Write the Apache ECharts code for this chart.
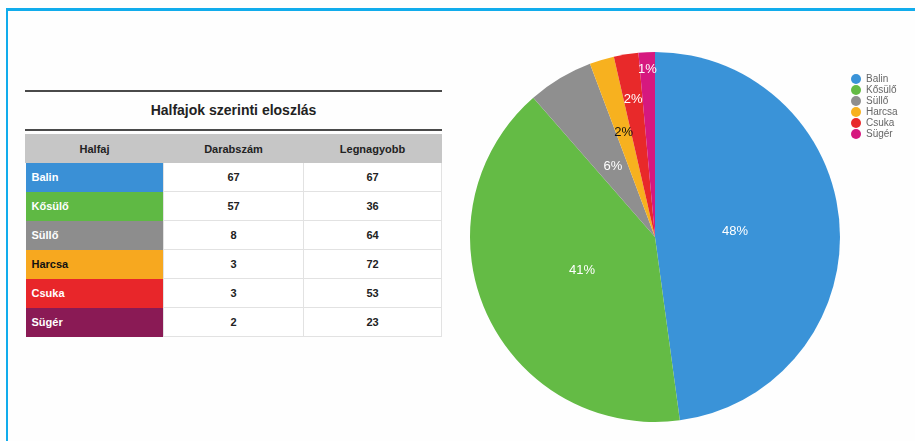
<!DOCTYPE html>
<html>
<head>
<meta charset="utf-8">
<script src="https://cdn.jsdelivr.net/npm/echarts@6/dist/echarts.min.js"></script>
<style>
    html, body { margin: 0; padding: 0; background: #fefefe; }
    #wrap { position: relative; width: 915px; height: 441px; overflow: hidden; font-family: "Liberation Sans", Arial, sans-serif; }
    #frame { position: absolute; left: 6px; top: 8px; width: 1000px; height: 1000px; border-left: 2px solid #11acec; border-top: 3px solid #11acec; }
    #chart { position: absolute; left: 0; top: 0; width: 915px; height: 441px; }
    #tbl { position: absolute; left: 25px; top: 90px; width: 417px; }
    #tbl .line { height: 2px; background: #4a4a4a; }
    #tbl .title { height: 37px; line-height: 37px; text-align: center; font-weight: bold; font-size: 14px; color: #222; }
    #tbl table { border-collapse: collapse; table-layout: fixed; width: 416px; margin-top: 3px; }
    #tbl td, #tbl th { height: 28px; padding: 0; font-size: 11px; font-weight: bold; border: 1px solid #e2e2e2; }
    #tbl th { background: #c6c6c6; color: #222; height: 27px; border-color: #c6c6c6; }
    #tbl td { text-align: center; color: #222; background: #fff; }
    #tbl td.name { text-align: left; padding-left: 6px; color: #fff; border: none; }
</style>
</head>
<body>
<div id="wrap">
    <div id="frame"></div>
    <div id="tbl">
        <div class="line"></div>
        <div class="title">Halfajok szerinti eloszlás</div>
        <div class="line"></div>
        <table id="t"></table>
    </div>
    <div id="chart"></div>
</div>
<script>
    // adatok
    var fajok = ['Balin', 'Kősülő', 'Süllő', 'Harcsa', 'Csuka', 'Sügér'];
    var darabszam = [67, 57, 8, 3, 3, 2];
    var legnagyobb = [67, 36, 64, 72, 53, 23];
    var fejlec = ['Halfaj', 'Darabszám', 'Legnagyobb'];

    var pieColors = ['#3a93d8', '#64bb45', '#8f8f8f', '#f7b11f', '#e8292a', '#d6187f'];
    var cellColors = ['#3a90d6', '#5fb944', '#8d8d8d', '#f7a81f', '#e8262a', '#8a1a55'];
    var nameText = ['#fff', '#fff', '#fff', '#111', '#fff', '#fff'];
    var labelColors = ['#fff', '#fff', '#fff', '#111', '#fff', '#fff'];
    var labelDist = [0.42, 0.42, 0.43, 0.57, 0.73, 0.88];

    // táblázat
    var html = '<colgroup><col style="width:138px"><col style="width:140px"><col style="width:138px"></colgroup><tr>';
    fejlec.forEach(function (h) { html += '<th>' + h + '</th>'; });
    html += '</tr>';
    fajok.forEach(function (f, i) {
        html += '<tr><td class="name" style="background:' + cellColors[i] + ';color:' + nameText[i] + '">' + f + '</td>'
            + '<td>' + darabszam[i] + '</td><td>' + legnagyobb[i] + '</td></tr>';
    });
    document.getElementById('t').innerHTML = html;

    // kördiagram
    var center = [655, 237];
    var radius = 185;
    var chart = echarts.init(document.getElementById('chart'));
    chart.setOption({
        animation: false,
        color: pieColors,
        legend: {
            orient: 'vertical',
            left: 846,
            top: 69,
            icon: 'circle',
            itemWidth: 10,
            itemHeight: 10,
            itemGap: 1,
            textStyle: { fontSize: 10, color: '#666', fontFamily: 'Liberation Sans, Arial' },
            data: fajok
        },
        series: [{
            type: 'pie',
            center: center,
            radius: radius,
            startAngle: 90,
            clockwise: true,
            itemStyle: { borderWidth: 0 },
            label: {
                position: 'inside',
                formatter: function (p) { return Math.round(p.percent) + '%'; },
                fontSize: 13,
                fontFamily: 'Liberation Sans, Arial',
                color: '#fff'
            },
            labelLayout: function (p) {
                var r = p.labelRect;
                var cx = r.x + r.width / 2 - center[0];
                var cy = r.y + r.height / 2 - center[1];
                var k = labelDist[p.dataIndex] / 0.5 - 1;
                return { dx: cx * k, dy: cy * k };
            },
            data: fajok.map(function (f, i) {
                return { name: f, value: darabszam[i], label: { color: labelColors[i] } };
            })
        }]
    });
</script>
</body>
</html>
